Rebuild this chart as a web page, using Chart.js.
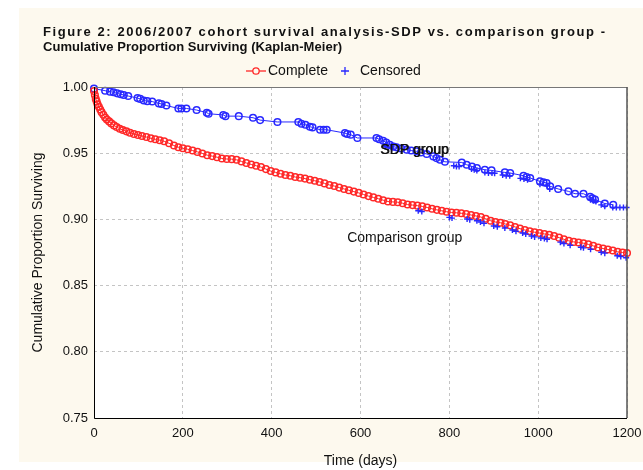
<!DOCTYPE html>
<html>
<head>
<meta charset="utf-8">
<title>Kaplan-Meier survival</title>
<script src="https://cdn.jsdelivr.net/npm/chart.js@4.4.1/dist/chart.umd.min.js"></script>
<style>
  html, body { margin: 0; padding: 0; background: #fff; }
  #wrap { width: 643px; height: 470px; }
</style>
</head>
<body>
<div id="wrap"><canvas id="km" width="643" height="470"></canvas></div>
<script>
// ---- data ----
const xTickValues = [0, 200, 400, 600, 800, 1000, 1200];
const yTickValues = [0.75, 0.80, 0.85, 0.90, 0.95, 1.00];

// comparison group, complete (red circles)
const compTimes = [0, 2, 4, 6, 8, 11, 14, 17, 21, 25, 29, 34, 39, 45, 51, 58, 65, 73, 81, 90,
  99, 108, 118, 128, 138, 148, 158, 169, 180, 190, 200, 211, 222, 233, 244, 255, 266, 277, 288, 299,
  310, 321, 332, 343, 354, 365, 376, 387, 398, 409, 420, 431, 442, 453, 464, 475, 486, 497, 508, 519,
  530, 541, 552, 563, 574, 585, 596, 607, 618, 629, 640, 651, 662, 673, 684, 695, 706, 717, 728, 739,
  750, 761, 772, 783, 794, 805, 816, 827, 838, 849, 860, 871, 882, 893, 904, 915, 926, 937, 948, 959,
  970, 981, 992, 1003, 1014, 1025, 1036, 1047, 1058, 1069, 1080, 1091, 1102, 1113, 1124, 1135, 1146, 1157, 1168, 1179,
  1190, 1200];
const compSurv = [0.997, 0.994, 0.991, 0.989, 0.987, 0.985, 0.983, 0.981, 0.979, 0.977, 0.9755, 0.974, 0.9725, 0.971, 0.9698, 0.9685, 0.9675, 0.9665, 0.9655, 0.9645,
  0.9637, 0.963, 0.9622, 0.9612, 0.9605, 0.9598, 0.959, 0.9575, 0.9558, 0.9545, 0.9537, 0.953, 0.952, 0.951, 0.9498, 0.9485, 0.9478, 0.947, 0.946, 0.9456,
  0.9455, 0.945, 0.9438, 0.9426, 0.9415, 0.9405, 0.9395, 0.938, 0.9365, 0.9355, 0.9345, 0.9335, 0.933, 0.932, 0.9315, 0.9308, 0.930, 0.9292, 0.9283, 0.9272,
  0.926, 0.9252, 0.924, 0.923, 0.922, 0.921, 0.920, 0.9188, 0.9176, 0.9166, 0.9156, 0.9145, 0.9135, 0.9132, 0.913, 0.9122, 0.9112, 0.9108, 0.9104, 0.9098,
  0.909, 0.908, 0.9072, 0.9065, 0.9058, 0.9052, 0.905, 0.9046, 0.904, 0.9033, 0.9026, 0.9018, 0.9005, 0.899, 0.898, 0.8975, 0.8965, 0.8955, 0.8943, 0.893,
  0.892, 0.891, 0.8903, 0.8897, 0.889, 0.8884, 0.8875, 0.8862, 0.885, 0.8838, 0.883, 0.8826, 0.882, 0.8811, 0.880, 0.8788, 0.878, 0.8773, 0.8765, 0.8755,
  0.875, 0.8746];

// comparison group, censored (blue +)
const compCensTimes = [730, 738, 800, 806, 840, 846, 862, 870, 878, 900, 908, 925, 942, 950, 965, 972,
  985, 992, 1006, 1014, 1020, 1050, 1058, 1072, 1096, 1102, 1118, 1142, 1150, 1178, 1186, 1198];
const compCensSurv = [0.9065, 0.906, 0.9015, 0.901, 0.9003, 0.8998, 0.899, 0.898, 0.897, 0.895, 0.8945, 0.8935, 0.892, 0.891, 0.8897, 0.889,
  0.8875, 0.8868, 0.886, 0.8855, 0.885, 0.8828, 0.8818, 0.8805, 0.879, 0.8785, 0.8775, 0.8752, 0.8745, 0.8725, 0.872, 0.871];

// SDP group, complete (blue circles)
const sdpTimes = [0, 25, 36, 44, 52, 60, 67, 77, 98, 104, 112, 120, 131, 146, 152, 163, 190, 197, 208, 231,
  254, 258, 291, 296, 326, 358, 374, 413, 460, 467, 476, 486, 492, 509, 517, 524, 565, 570, 578, 593,
  636, 642, 651, 658, 666, 674, 681, 692, 704, 714, 726, 736, 749, 764, 771, 779, 790, 828, 839, 851,
  862, 880, 895, 925, 937, 967, 974, 982, 1004, 1012, 1019, 1027, 1045, 1068, 1083, 1102, 1117, 1122, 1128, 1150,
  1169];
const sdpSurv = [0.9988, 0.9972, 0.9965, 0.996, 0.9952, 0.9945, 0.994, 0.9932, 0.9916, 0.991, 0.9898, 0.9893, 0.989, 0.9876, 0.9872, 0.986, 0.9838, 0.9838, 0.9838, 0.9826,
  0.9806, 0.9798, 0.9789, 0.978, 0.978, 0.9768, 0.975, 0.9736, 0.9736, 0.9722, 0.9715, 0.970, 0.9695, 0.9677, 0.9677, 0.9677, 0.9652, 0.9645, 0.964, 0.9615,
  0.9615, 0.9605, 0.9594, 0.958, 0.9564, 0.955, 0.9544, 0.9535, 0.9526, 0.952, 0.9514, 0.9505, 0.9494, 0.9476, 0.9463, 0.945, 0.9435, 0.943, 0.9413, 0.940,
  0.9388, 0.9375, 0.937, 0.9355, 0.935, 0.933, 0.932, 0.9313, 0.9287, 0.928, 0.9275, 0.925, 0.923, 0.9212, 0.9194, 0.9194, 0.917, 0.916, 0.915, 0.912,
  0.911];

// SDP group, censored (blue +)
const sdpCensTimes = [655, 662, 670, 810, 816, 822, 850, 856, 862, 880, 888, 896, 902, 920, 928, 936,
  960, 968, 976, 1004, 1020, 1026, 1118, 1124, 1130, 1142, 1150, 1168, 1176, 1184, 1192, 1199];
const sdpCensSurv = [0.955, 0.9545, 0.9535, 0.9405, 0.940, 0.940, 0.938, 0.9375, 0.937, 0.9355, 0.935, 0.935, 0.9348, 0.9335, 0.933, 0.933,
  0.931, 0.9305, 0.930, 0.9265, 0.9255, 0.923, 0.9148, 0.914, 0.9135, 0.911, 0.910, 0.909, 0.909, 0.909, 0.909, 0.909];

// ---- look ----
const RED = 'rgb(255,40,40)';
const BLUE = 'rgb(40,40,255)';
const CREAM = '#fdf9ee';
const FONT = '"Liberation Sans", Arial, sans-serif';

const TITLE_1 = 'Figure 2: 2006/2007 cohort survival analysis-SDP vs. comparison group -';
const TITLE_2 = 'Cumulative Proportion Surviving (Kaplan-Meier)';

// group labels, anchored in data space
const groupLabels = [
  { text: 'SDP group', t: 644, s: 0.9526, heavy: true },
  { text: 'Comparison group', t: 570, s: 0.886, heavy: false }
];

function pairs(xs, ys) {
  return xs.map((x, i) => ({ x, y: ys[i] }));
}

function fitText(ctx, text, x, y, width) {
  ctx.letterSpacing = '0px';
  const w = ctx.measureText(text).width;
  ctx.letterSpacing = ((width - w) / text.length).toFixed(2) + 'px';
  ctx.fillText(text, x, y);
  ctx.letterSpacing = '0px';
}

/* =============================
   PAPER, FRAME, TEXT
============================= */
const paper = {
  id: 'paper',
  beforeDraw(chart) {
    const { ctx, chartArea: a } = chart;
    ctx.save();
    ctx.fillStyle = '#fff';
    ctx.fillRect(0, 0, chart.width, chart.height);
    ctx.fillStyle = CREAM;
    ctx.fillRect(19, 8, chart.width - 19, 454);
    ctx.fillStyle = '#fff';
    ctx.fillRect(a.left, a.top, a.right - a.left, a.bottom - a.top);
    ctx.restore();
  },
  afterDraw(chart) {
    const { ctx, chartArea: a, scales } = chart;
    ctx.save();

    // frame
    ctx.lineWidth = 1;
    ctx.strokeStyle = '#777';
    ctx.beginPath();
    ctx.moveTo(a.left, a.top + 0.5);
    ctx.lineTo(a.right, a.top + 0.5);
    ctx.stroke();
    ctx.lineWidth = 1.5;
    ctx.strokeStyle = '#555';
    ctx.beginPath();
    ctx.moveTo(a.right, a.top);
    ctx.lineTo(a.right, a.bottom);
    ctx.stroke();
    ctx.lineWidth = 1;
    ctx.strokeStyle = '#000';
    ctx.beginPath();
    ctx.moveTo(a.left + 0.5, a.top);
    ctx.lineTo(a.left + 0.5, a.bottom + 0.5);
    ctx.lineTo(a.right, a.bottom + 0.5);
    ctx.stroke();

    // titles
    ctx.fillStyle = '#111';
    ctx.textBaseline = 'middle';
    ctx.textAlign = 'left';
    ctx.font = 'bold 13px ' + FONT;
    fitText(ctx, TITLE_1, 43, 32, 564);
    ctx.font = 'bold 13px ' + FONT;
    fitText(ctx, TITLE_2, 43, 47, 299);

    // legend
    const ly = 71;
    ctx.strokeStyle = RED;
    ctx.lineWidth = 1.3;
    ctx.beginPath();
    ctx.moveTo(246, ly);
    ctx.lineTo(266, ly);
    ctx.stroke();
    ctx.fillStyle = CREAM;
    ctx.beginPath();
    ctx.arc(256, ly, 3.2, 0, Math.PI * 2);
    ctx.fill();
    ctx.stroke();
    ctx.strokeStyle = BLUE;
    ctx.lineWidth = 1.3;
    ctx.beginPath();
    ctx.moveTo(341, ly);
    ctx.lineTo(349, ly);
    ctx.moveTo(345, ly - 4);
    ctx.lineTo(345, ly + 4);
    ctx.stroke();
    ctx.fillStyle = '#111';
    ctx.font = '14px ' + FONT;
    ctx.fillText('Complete', 268, ly);
    ctx.fillText('Censored', 360, ly);

    // group labels
    ctx.font = '14px ' + FONT;
    groupLabels.forEach(g => {
      const px = scales.x.getPixelForValue(g.t);
      const py = scales.y.getPixelForValue(g.s);
      ctx.fillText(g.text, px, py);
      if (g.heavy) ctx.fillText(g.text, px + 0.7, py);
    });

    ctx.restore();
  }
};

/* =============================
   CHART
============================= */
const circleSet = (label, xs, ys, color) => ({
  label,
  data: pairs(xs, ys),
  showLine: true,
  borderColor: color,
  borderWidth: 1,
  pointStyle: 'circle',
  pointRadius: 3.3,
  pointBorderWidth: 1.5,
  pointBorderColor: color,
  pointBackgroundColor: 'rgba(255,255,255,0)',
  clip: 5
});

const crossSet = (label, xs, ys) => ({
  label,
  data: pairs(xs, ys),
  showLine: false,
  pointStyle: 'cross',
  pointRadius: 3,
  pointBorderWidth: 1.4,
  pointBorderColor: BLUE,
  clip: 5
});

const tickFont = { family: FONT, size: 13 };

new Chart(document.getElementById('km'), {
  type: 'scatter',
  data: {
    datasets: [
      crossSet('Comparison censored', compCensTimes, compCensSurv),
      crossSet('SDP censored', sdpCensTimes, sdpCensSurv),
      circleSet('Comparison group', compTimes, compSurv, RED),
      circleSet('SDP group', sdpTimes, sdpSurv, BLUE)
    ]
  },
  options: {
    responsive: false,
    animation: false,
    devicePixelRatio: 1,
    events: [],
    layout: { padding: { left: 26, top: 87, right: 16, bottom: 0 } },
    plugins: {
      legend: { display: false },
      tooltip: { enabled: false }
    },
    scales: {
      x: {
        type: 'linear',
        min: 0,
        max: 1200,
        afterBuildTicks: s => { s.ticks = xTickValues.map(v => ({ value: v })); },
        afterFit: s => { s.height = 52; s.paddingLeft = 0; s.paddingRight = 0; },
        grid: { color: '#c4c4c4', drawTicks: false },
        border: { display: false, dash: [3, 3] },
        ticks: { color: '#111', font: tickFont, padding: 8, maxRotation: 0, callback: v => String(v) },
        title: { display: true, text: 'Time (days)', color: '#111', font: { family: FONT, size: 14 }, padding: { top: 0, bottom: 0 } }
      },
      y: {
        type: 'linear',
        min: 0.75,
        max: 1.0,
        afterBuildTicks: s => { s.ticks = yTickValues.map(v => ({ value: v })); },
        afterFit: s => { s.width = 68; s.paddingTop = 0; s.paddingBottom = 0; },
        grid: { color: '#c4c4c4', drawTicks: false },
        border: { display: false, dash: [3, 3] },
        ticks: { color: '#111', font: tickFont, padding: 6, callback: v => v.toFixed(2) },
        title: { display: true, text: 'Cumulative Proportion Surviving', color: '#111', font: { family: FONT, size: 14 }, padding: { top: 4, bottom: 0 } }
      }
    }
  },
  plugins: [paper]
});
</script>
</body>
</html>
